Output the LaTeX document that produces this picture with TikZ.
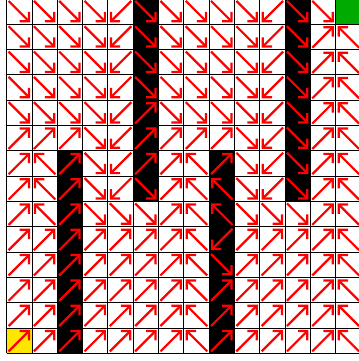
\documentclass[tikz,border=0pt]{standalone}
\usetikzlibrary{arrows.meta}
\definecolor{goalgreen}{RGB}{0,170,0}
\definecolor{startyellow}{RGB}{255,230,0}
\begin{document}
\begin{tikzpicture}[x=1cm,y=1cm,
  gridline/.style={draw=black,line width=1pt},
  wallcell/.style={fill=black},
  goalcell/.style={fill=goalgreen},
  startcell/.style={fill=startyellow},
  policy/.style={draw=red,line width=2.5pt,line cap=butt,
    -{Straight Barb[length=2.6mm,width=5.2mm,line width=2.5pt]}}]
\useasboundingbox (-0.264,-0.304) rectangle (13.893,13.961);
% special cells
\foreach \c in {5,11} {\fill[wallcell] (\c,6) rectangle (\c+1,14);}
\foreach \c in {2,8} {\fill[wallcell] (\c,0) rectangle (\c+1,8);}
\fill[goalcell] (13,13) rectangle (14,14);
\fill[startcell] (0,0) rectangle (1,1);
% grid
\draw[gridline] (0,0) grid (14,14);
% policy arrows (row 0 at top)
\foreach \row [count=\r from 0] in {
 {-45,-45,-45,-45,-135,-45,-45,-45,-45,-45,-135,-45,-45,0},
 {-45,-45,-45,-45,-135,-45,-45,-45,-45,-45,-135,-45,45,135},
 {-45,-45,-45,-45,-135,-45,-45,-45,-45,-45,-135,-45,45,135},
 {-45,-45,-45,-45,-135,-45,-45,-45,-45,-45,-135,-45,45,135},
 {-45,-45,-45,-45,-135,45,-45,-45,-45,-45,-135,-45,45,135},
 {45,45,45,-45,-135,45,45,45,45,-45,-135,-45,45,135},
 {45,135,45,-45,-135,45,45,135,45,-45,-135,-45,45,135},
 {45,135,45,-45,-135,-45,45,135,135,-45,-135,-45,45,135},
 {45,135,45,-45,-45,-45,45,135,135,-45,-45,-45,45,135},
 {45,45,45,45,45,45,45,135,-135,45,45,45,45,135},
 {45,45,45,45,45,45,45,135,-45,45,45,45,45,135},
 {45,45,45,45,45,45,45,135,45,45,45,45,45,135},
 {45,45,45,45,45,45,45,135,45,45,45,45,45,135},
 {45,45,45,45,45,45,45,135,45,45,45,45,45,135}} {
  \foreach \d [count=\c from 0] in \row {
    \ifnum\d=0\relax\else
      \draw[policy,shift={(\c+0.5,13.5-\r)}] (\d+180:0.6) -- (\d:0.6);
    \fi
  }
}
\end{tikzpicture}
\end{document}
